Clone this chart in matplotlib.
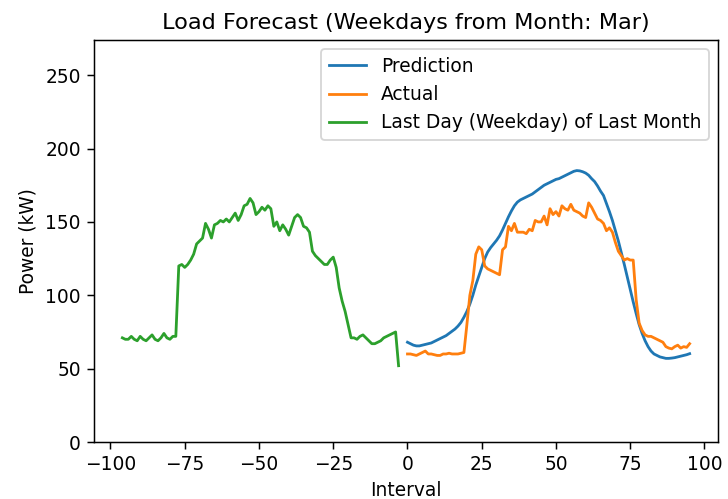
import numpy as np
import matplotlib
matplotlib.use("Agg")
import matplotlib.pyplot as plt

# Valores (potência em kW por intervalo)
last_day = [71, 70, 70, 72, 70, 69, 72, 70, 69, 71, 73, 70, 69, 71, 74, 71,
            70, 72, 72, 120, 121, 119, 121, 124, 128, 135, 137, 139, 149, 145,
            139, 148, 149, 151, 150, 152, 150, 153, 156, 151, 155, 161, 162,
            166, 163, 155, 157, 160, 158, 161, 159, 147, 150, 144, 148, 145,
            141, 147, 153, 155, 153, 147, 146, 143, 130, 127, 125, 123, 121,
            121, 124, 126, 119, 105, 96, 89, 80, 71, 71, 70, 72, 73, 71, 69,
            67, 67, 68, 69, 71, 72, 73, 74, 75, 52]

prediction = [68, 67, 66, 65.5, 65.5, 66, 66.5, 67, 67.5, 68.5, 69.5, 70.5,
              71.5, 72.5, 74, 75.5, 77, 79, 81.5, 85, 89, 94, 100, 107, 113,
              119, 125, 129.5, 132.5, 135, 137.5, 140.5, 144.5, 149, 153.5,
              157.5, 161, 163.5, 165, 166, 167, 168, 169, 170.5, 172, 173.5,
              175, 176, 177, 178, 179, 179.5, 180.5, 181.5, 182.5, 183.5,
              184.5, 185, 184.8, 184.2, 183.3, 181.8, 179.5, 177.5, 174.5,
              171, 168, 162.5, 157, 151, 144, 137, 129, 121, 112.5, 104, 95.5,
              87.5, 80, 74, 69, 65, 62, 60, 59, 58, 57.5, 57, 57, 57.2, 57.5,
              58, 58.5, 59, 59.5, 60.2]

actual = [60, 60, 59.5, 59, 60, 61, 62, 60, 60, 59.5, 59, 59, 60, 60, 60.5,
          60, 60, 60, 60.5, 61, 80, 100, 110, 128, 133, 131, 120, 118, 117,
          116, 115, 114, 131, 133, 147, 144, 149, 143, 143, 143, 142, 145,
          144, 151, 150, 150, 154, 148, 159, 155, 157, 154, 161, 159, 158,
          162, 158, 157, 156, 154, 153, 163, 160, 156, 152, 151, 149, 144,
          146, 143, 136, 130, 127, 124, 125, 124, 124, 97, 81, 76, 73, 72,
          72, 71, 70, 69, 68, 65, 64, 63.5, 65, 66, 64, 65, 64.5, 67]

month = "Mar"

x_last = np.arange(-96, -96 + len(last_day))
x_next = np.arange(len(prediction))

fig = plt.figure(figsize=(728 / 134, 499 / 134), dpi=134)
ax = fig.add_axes([94 / 728, 57 / 499, 624 / 728, 402 / 499])

ax.plot(x_next, prediction, label="Prediction")
ax.plot(x_next, actual, label="Actual")
ax.plot(x_last, last_day, label="Last Day (Weekday) of Last Month")

ax.set_ylim(0, 274)
ax.set_title(f"Load Forecast (Weekdays from Month: {month})")
ax.set_xlabel("Interval")
ax.set_ylabel("Power (kW)")
ax.legend(loc="upper right")

fig.savefig("out.png", dpi=134)
